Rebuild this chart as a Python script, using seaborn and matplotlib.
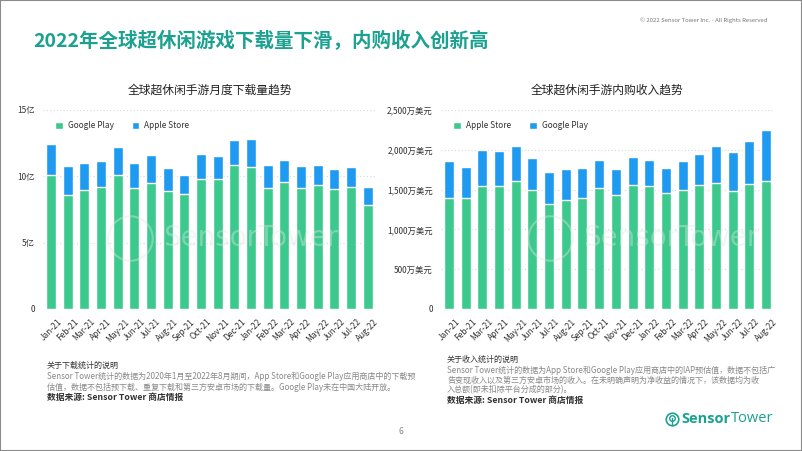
import matplotlib
matplotlib.use('Agg')
import matplotlib.pyplot as plt
from matplotlib.lines import Line2D
from matplotlib.patches import Rectangle
import numpy as np
import pandas as pd
import seaborn as sns

# ---- data ----
months = ['Jan-21', 'Feb-21', 'Mar-21', 'Apr-21', 'May-21', 'Jun-21', 'Jul-21', 'Aug-21',
          'Sep-21', 'Oct-21', 'Nov-21', 'Dec-21', 'Jan-22', 'Feb-22', 'Mar-22', 'Apr-22',
          'May-22', 'Jun-22', 'Jul-22', 'Aug-22']

# downloads, 亿
dl_google = [10.13, 8.57, 8.97, 9.22, 10.13, 9.15, 9.52, 8.87, 8.67, 9.77,
             9.80, 10.83, 10.73, 9.15, 9.55, 9.15, 9.35, 9.07, 9.20, 7.84]
dl_apple = [2.31, 2.21, 2.06, 1.96, 2.08, 1.85, 2.06, 1.78, 1.41, 1.91,
            1.73, 1.88, 2.08, 1.70, 1.71, 1.63, 1.50, 1.51, 1.53, 1.36]

# IAP revenue, 万美元
rev_apple = [1392, 1400, 1539, 1539, 1610, 1493, 1325, 1371, 1396, 1518,
             1430, 1556, 1539, 1463, 1497, 1556, 1585, 1484, 1572, 1614]
rev_google = [470, 390, 461, 440, 440, 398, 402, 386, 378, 360,
              335, 356, 339, 306, 365, 394, 469, 487, 533, 638]

dl_ticks = [0, 5, 10, 15]
dl_ticklabels = ['0', '5亿', '10亿', '15亿']
rev_ticks = [0, 500, 1000, 1500, 2000, 2500]
rev_ticklabels = ['0', '500万美元', '1,000万美元', '1,500万美元', '2,000万美元', '2,500万美元']

GREEN = '#3cc98e'
BLUE = '#1e9bf0'
TEAL = '#1ba190'

df = pd.DataFrame({'Month': months,
                   'DL_Google': dl_google, 'DL_Apple': dl_apple,
                   'Rev_Apple': rev_apple, 'Rev_Google': rev_google})
df['DL_Total'] = df['DL_Google'] + df['DL_Apple']
df['Rev_Total'] = df['Rev_Apple'] + df['Rev_Google']

sns.set_theme(style='white')
plt.rcParams['font.family'] = ['Noto Sans CJK SC', 'DejaVu Sans']

W, H = 802, 451
fig = plt.figure(figsize=(W / 100, H / 100), dpi=100)

def fx(px):
    return px / W

def fy(py):
    return 1 - py / H

ax1 = fig.add_axes([fx(42.6), fy(309), fx(376) - fx(42.6), fy(110) - fy(309)])
ax2 = fig.add_axes([fx(440.6), fy(309), fx(774.4) - fx(440.6), fy(110) - fy(309)])

def stacked(ax, total, bottom, top_label, bottom_label, ticks, ticklabels):
    # total bar in blue, lower segment in green drawn over it
    sns.barplot(data=df, x='Month', y=total, color=BLUE, saturation=1, width=0.6,
                ax=ax, label=top_label, zorder=2)
    sns.barplot(data=df, x='Month', y=bottom, color=GREEN, saturation=1, width=0.6,
                ax=ax, label=bottom_label, zorder=3)
    ax.set_ylim(0, ticks[-1])
    ax.set_yticks(ticks)
    ax.set_yticklabels(ticklabels)
    ax.set_xlim(-0.5, len(months) - 0.5)
    ax.set_xlabel('')
    ax.set_ylabel('')
    ax.grid(axis='y', color='#d6d6d6', linestyle=(0, (1, 2)), linewidth=0.8, zorder=0)
    ax.set_axisbelow(True)
    for s in ax.spines.values():
        s.set_visible(False)
    ax.tick_params(axis='y', length=0, pad=5.5, labelsize=6, labelcolor='#333333')
    ax.tick_params(axis='x', length=0, pad=6, labelsize=6, labelcolor='#333333')
    plt.setp(ax.get_xticklabels(), rotation=45, ha='center')
    handles, labels = ax.get_legend_handles_labels()
    ax.legend(handles[::-1], labels[::-1], loc='center left', bbox_to_anchor=(0.015, 0.92),
              ncol=2, frameon=False, fontsize=6, handlelength=0.9, handleheight=0.9,
              handletextpad=0.6, columnspacing=2.2, labelcolor='#333333')

stacked(ax1, 'DL_Total', 'DL_Google', 'Apple Store', 'Google Play', dl_ticks, dl_ticklabels)
stacked(ax2, 'Rev_Total', 'Rev_Apple', 'Google Play', 'Apple Store', rev_ticks, rev_ticklabels)

# chart titles
fig.text(fx(210), fy(90), '全球超休闲手游月度下载量趋势', ha='center', va='center',
         fontsize=8.5, color='#222222')
fig.text(fx(607), fy(90), '全球超休闲手游内购收入趋势', ha='center', va='center',
         fontsize=8.5, color='#222222')

# page title and copyright
fig.text(fx(33), fy(41), '2022年全球超休闲游戏下载量下滑，内购收入创新高', ha='left', va='center',
         fontsize=14, fontweight='bold', color=TEAL)
fig.text(fx(767), fy(20), '© 2022 Sensor Tower Inc. - All Rights Reserved', ha='right', va='center',
         fontsize=4.3, color='#777777')

# watermarks
for cx, tx in [(130, 163), (550, 583)]:
    fig.add_artist(Line2D([fx(cx)], [fy(238)], marker='o', markersize=32, markerfacecolor='none',
                          markeredgecolor='#dfe6e4', markeredgewidth=1.5, alpha=0.4,
                          transform=fig.transFigure))
    fig.text(fx(tx), fy(238), 'SensorTower', ha='left', va='center', fontsize=20,
             color='#dfe6e4', alpha=0.4, family='DejaVu Sans')

# footnotes
note_gray = '#888888'
fs_note = 5.8
fig.text(fx(47), fy(365), '关于下载统计的说明', fontsize=fs_note, color='#333333', va='center')
fig.text(fx(47), fy(376), 'Sensor Tower统计的数据为2020年1月至2022年8月期间，App Store和Google Play应用商店中的下载预',
         fontsize=fs_note, color=note_gray, va='center')
fig.text(fx(47), fy(387), '估值，数据不包括预下载、重复下载和第三方安卓市场的下载量。Google Play未在中国大陆开放。',
         fontsize=fs_note, color=note_gray, va='center')
fig.text(fx(47), fy(397.5), '数据来源: Sensor Tower 商店情报', fontsize=6.3, color='#333333',
         fontweight='bold', va='center')

fig.text(fx(447), fy(359), '关于收入统计的说明', fontsize=fs_note, color='#333333', va='center')
fig.text(fx(447), fy(370), 'Sensor Tower统计的数据为App Store和Google Play应用商店中的IAP预估值，数据不包括广',
         fontsize=fs_note, color=note_gray, va='center')
fig.text(fx(447), fy(380), '告变现收入以及第三方安卓市场的收入。在未明确声明为净收益的情况下，该数据均为收',
         fontsize=fs_note, color=note_gray, va='center')
fig.text(fx(447), fy(390), '入总额(即未扣除平台分成的部分)。', fontsize=fs_note, color=note_gray, va='center')
fig.text(fx(447), fy(400.5), '数据来源: Sensor Tower 商店情报', fontsize=6.3, color='#333333',
         fontweight='bold', va='center')

# page number
fig.text(fx(401), fy(432), '6', ha='center', va='center', fontsize=6, color='#888888')

# logo
fig.add_artist(Line2D([fx(672)], [fy(419)], marker='o', markersize=9, markerfacecolor='none',
                      markeredgecolor=TEAL, markeredgewidth=1.2, transform=fig.transFigure))
fig.add_artist(Line2D([fx(672)], [fy(417.5)], marker='o', markersize=4, markerfacecolor='none',
                      markeredgecolor=TEAL, markeredgewidth=1.0, transform=fig.transFigure))
fig.add_artist(Line2D([fx(672), fx(672)], [fy(418), fy(425)], color=TEAL, linewidth=1.0,
                      transform=fig.transFigure))
t = fig.text(fx(681), fy(419), 'Sensor', ha='left', va='center', fontsize=10.5,
             fontweight='bold', color=TEAL, family='Open Sans')
fig.canvas.draw()
bb = t.get_window_extent()
fig.text(bb.x1 / W + fx(1), fy(419), 'Tower', ha='left', va='center', fontsize=10.5,
         color=TEAL, family='Open Sans')

# slide frame
fig.add_artist(Rectangle((0, 0), 1, 1, transform=fig.transFigure, fill=False,
                         edgecolor='#8a8a8a', linewidth=1.5))

fig.savefig('out.png', dpi=100)
